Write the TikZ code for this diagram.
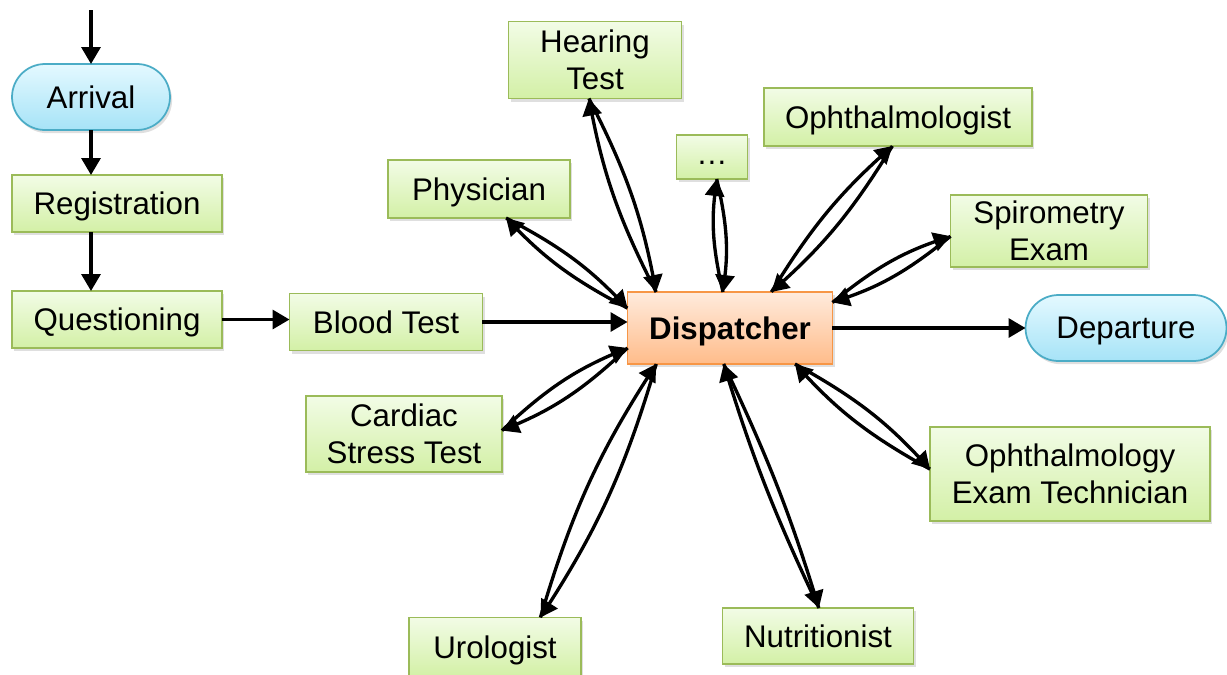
\documentclass[tikz,border=0pt]{standalone}
\usepackage{fontspec}
\setmainfont{Liberation Sans}
\usepackage{tikz}
\usetikzlibrary{arrows.meta, positioning, shadows, calc}
\definecolor{stationline}{HTML}{9BBB59}
\definecolor{stationtop}{HTML}{F2FCE6}
\definecolor{stationbot}{HTML}{D3F0A6}
\definecolor{endline}{HTML}{4BACC6}
\definecolor{endtop}{HTML}{E4F9FF}
\definecolor{endbot}{HTML}{A6E3F7}
\definecolor{displine}{HTML}{F79646}
\definecolor{disptop}{HTML}{FFEBDD}
\definecolor{dispbot}{HTML}{FFBC8A}
\newcommand{\boxfont}{\fontsize{17.8pt}{21pt}\selectfont}
\tikzset{
  stationbox/.style={draw=stationline, line width=1pt, top color=stationtop,
              bottom color=stationbot, align=center, font=\boxfont,
              inner sep=0pt, outer sep=0pt, text depth=0pt,
              drop shadow={shadow xshift=1.2pt, shadow yshift=-1.8pt, opacity=0.25}},
  dispbox/.style={stationbox, draw=displine, top color=disptop,
              bottom color=dispbot, font=\boxfont\bfseries},
  endbox/.style={stationbox, draw=endline, top color=endtop,
              bottom color=endbot, rounded corners=0.66cm, minimum height=1.32cm},
  flow/.style={-{Triangle[length=3.4mm, width=3.8mm]}, line width=1.9pt, draw=black},
}

\begin{document}
\begin{tikzpicture}[x=0.02cm, y=-0.02cm]
  \useasboundingbox (0,0) rectangle (1227,674);

  % reception line
  \coordinate (entry) at (91,10);
  \node[endbox, minimum width=3.16cm] (arr) at (91,97) {Arrival};
  \node[stationbox, minimum width=4.2cm, minimum height=1.14cm] (reg) at (117,203.5) {Registration};
  \node[stationbox, minimum width=4.2cm, minimum height=1.14cm] (quest) at (117,319.5) {Questioning};
  \node[stationbox, minimum width=3.86cm, minimum height=1.14cm] (blood) at (386,322) {Blood Test};

  % hub and examinations
  \node[dispbox, minimum width=4.1cm, minimum height=1.44cm] (disp) at (730,328) {Dispatcher};
  \node[endbox, minimum width=4.02cm] (dep) at (1126,328) {Departure};
  \node[stationbox, minimum width=3.64cm, minimum height=1.16cm] (phys) at (479,189) {Physician};
  \node[stationbox, minimum width=3.46cm, minimum height=1.54cm] (hear) at (595,60) {Hearing\\ Test};
  \node[stationbox, minimum width=1.42cm, minimum height=0.88cm] (more) at (712,157) {\raisebox{-4pt}{…}};
  \node[stationbox, minimum width=5.36cm, minimum height=1.16cm] (ophth) at (898,117) {Ophthalmologist};
  \node[stationbox, minimum width=3.94cm, minimum height=1.44cm] (spiro) at (1049,231) {Spirometry\\ Exam};
  \node[stationbox, minimum width=3.92cm, minimum height=1.52cm] (card) at (404,434) {Cardiac\\ Stress Test};
  \node[stationbox, minimum width=5.6cm, minimum height=1.88cm] (tech) at (1070,474) {Ophthalmology\\ Exam Technician};
  \node[stationbox, minimum width=3.44cm, minimum height=1.18cm] (uro) at (495,647) {Urologist};
  \node[stationbox, minimum width=3.82cm, minimum height=1.12cm] (nutri) at (818,636) {Nutritionist};

  \draw[flow] (entry) -- (arr);
  \draw[flow] (arr) -- (arr |- reg.north);
  \draw[flow] (arr |- reg.south) -- (arr |- quest.north);
  \draw[flow] (quest) -- (quest -| blood.west);
  \draw[flow] (blood) -- (blood -| disp.west);
  \draw[flow] (disp) -- (dep);

  % there and back again
  \draw[flow] (phys.-47) to[bend left=9] (disp.169);
  \draw[flow] (disp.169) to[bend left=9] (phys.-47);
  \draw[flow] (hear.-99) to[bend left=8] (disp.154);
  \draw[flow] (disp.154) to[bend left=8] (hear.-99);
  \draw[flow] (more.-78) to[bend left=10] (disp.101);
  \draw[flow] (disp.101) to[bend left=10] (more.-78);
  \draw[flow] (ophth.-101) to[bend left=8] (disp.41);
  \draw[flow] (disp.41) to[bend left=8] (ophth.-101);
  \draw[flow] (spiro.183) to[bend left=10] (disp.14);
  \draw[flow] (disp.14) to[bend left=10] (spiro.183);
  \draw[flow] (card.2) to[bend left=10] (disp.-169);
  \draw[flow] (disp.-169) to[bend left=10] (card.2);
  \draw[flow] (uro.33) to[bend left=8] (disp.-154);
  \draw[flow] (disp.-154) to[bend left=8] (uro.33);
  \draw[flow] (nutri.88) to[bend left=4] (disp.-100);
  \draw[flow] (disp.-100) to[bend left=4] (nutri.88);
  \draw[flow] (tech.178) to[bend left=9] (disp.-29);
  \draw[flow] (disp.-29) to[bend left=9] (tech.178);
\end{tikzpicture}
\end{document}
